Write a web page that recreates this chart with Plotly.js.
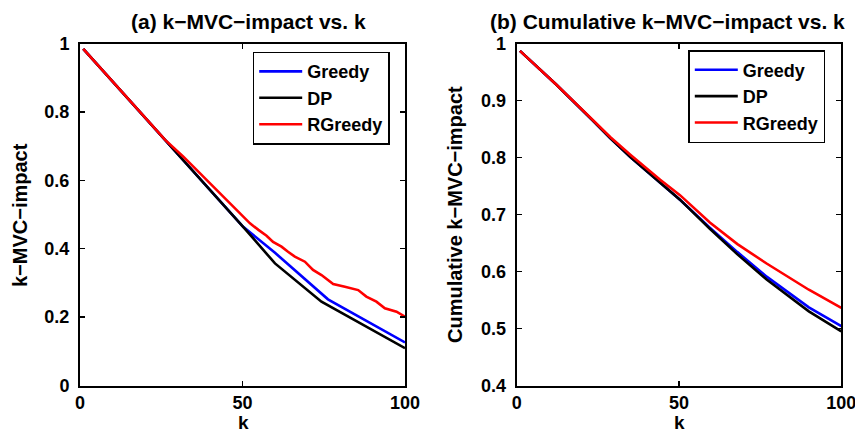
<!DOCTYPE html>
<html>
<head>
<meta charset="utf-8">
<script src="https://cdn.plot.ly/plotly-3.0.1.min.js"></script>
<style>html,body{margin:0;padding:0;background:#fff;}#chart{width:855px;height:431px;}</style>
</head>
<body>
<div id="chart"></div>
<script>
// ---- Panel (a): k-MVC-impact vs. k ----
var aGreedyK = [1, 10, 20, 30, 40, 46, 50.2, 60, 76.3, 100];
var aGreedyV = [0.984, 0.889, 0.783, 0.678, 0.573, 0.508, 0.464, 0.388, 0.252, 0.126];
var aDPK = [1, 10, 20, 30, 40, 46, 50.2, 60, 74.3, 100];
var aDPV = [0.984, 0.889, 0.783, 0.678, 0.573, 0.508, 0.464, 0.357, 0.245, 0.109];
var aRGreedyK = [1, 10, 20, 26.2, 31.8, 36.9, 42, 47.2, 52.3, 54.9, 57.4, 59.4, 62, 64, 66.1, 69.2, 71.7, 74.3, 77.9, 81.5, 85.6, 88.1, 91.2, 93.8, 97.4, 100];
var aRGreedyV = [0.984, 0.889, 0.784, 0.718, 0.669, 0.620, 0.572, 0.523, 0.474, 0.455, 0.438, 0.420, 0.406, 0.391, 0.377, 0.362, 0.338, 0.323, 0.297, 0.289, 0.279, 0.260, 0.245, 0.226, 0.216, 0.201];

// ---- Panel (b): Cumulative k-MVC-impact vs. k ----
var bGreedyK = [1, 12, 23.6, 28.8, 35, 44.2, 50.3, 59.5, 68, 77, 90, 100];
var bGreedyV = [0.987, 0.929, 0.864, 0.834, 0.801, 0.756, 0.726, 0.677, 0.634, 0.591, 0.537, 0.504];
var bDPK = [1, 12, 23.6, 28.8, 35, 44.2, 50.3, 59.5, 68, 77, 90, 100];
var bDPV = [0.987, 0.929, 0.864, 0.834, 0.801, 0.756, 0.726, 0.675, 0.630, 0.586, 0.530, 0.495];
var bRGreedyK = [1, 12, 23.6, 28.8, 35, 44.2, 50.3, 59.5, 68, 77, 90, 100];
var bRGreedyV = [0.987, 0.929, 0.865, 0.836, 0.805, 0.761, 0.734, 0.686, 0.648, 0.614, 0.568, 0.536];

var seriesNames = ["Greedy", "DP", "RGreedy"];
var seriesColors = ["#0000ff", "#000000", "#ff0000"];

var titleA = "(a) k\u2212MVC\u2212impact vs. k";
var titleB = "(b) Cumulative k\u2212MVC\u2212impact vs. k";
var yTitleA = "k\u2212MVC\u2212impact";
var yTitleB = "Cumulative k\u2212MVC\u2212impact";
var xTitle = "k";

var FONT = "Liberation Sans, Arial, Helvetica, sans-serif";
var LW = 2.6;

function tr(x, y, i, xa, ya, lg) {
  return {x: x, y: y, type: "scatter", mode: "lines", name: seriesNames[i],
    line: {color: seriesColors[i], width: LW}, xaxis: xa, yaxis: ya, legend: lg};
}

var data = [
  tr(aGreedyK, aGreedyV, 0, "x", "y", "legend"),
  tr(aDPK, aDPV, 1, "x", "y", "legend"),
  tr(aRGreedyK, aRGreedyV, 2, "x", "y", "legend"),
  tr(bGreedyK, bGreedyV, 0, "x2", "y2", "legend2"),
  tr(bDPK, bDPV, 1, "x2", "y2", "legend2"),
  tr(bRGreedyK, bRGreedyV, 2, "x2", "y2", "legend2")
];

var tickFont = {family: FONT, size: 18, color: "#000", weight: "bold"};
function xax(dom, anchor) {
  return {domain: dom, anchor: anchor, range: [0, 100], dtick: 50, tick0: 0,
    showgrid: false, zeroline: false, showline: true, linecolor: "#000", linewidth: 2,
    mirror: "ticks", ticks: "inside", ticklen: 5, tickwidth: 1.3, tickcolor: "#000",
    tickfont: tickFont, ticklabeloverflow: "allow", fixedrange: true};
}
function yax(dom, anchor, range, dt) {
  return {domain: dom, anchor: anchor, range: range, dtick: dt, tick0: 0,
    showgrid: false, zeroline: false, showline: true, linecolor: "#000", linewidth: 2,
    mirror: "ticks", ticks: "inside", ticklen: 5, tickwidth: 1.3, tickcolor: "#000",
    tickfont: tickFont, ticklabelstandoff: 5, ticklabeloverflow: "allow", fixedrange: true};
}

var yDom = [1 - 385.5 / 431, 1 - 43.5 / 431];
var legendStyle = function (x, y) {
  return {x: x, y: y, xanchor: "left", yanchor: "top", xref: "paper", yref: "paper",
    bgcolor: "#fff", bordercolor: "#000", borderwidth: 1.5, itemwidth: 43,
    font: {family: FONT, size: 18, color: "#000", weight: "bold"}};
};

var annFont = {family: FONT, size: 21, color: "#000", weight: "bold"};
var axFont = {family: FONT, size: 20, color: "#000", weight: "bold"};
var kFont = {family: FONT, size: 19, color: "#000", weight: "bold"};
var layout = {
  width: 855, height: 431,
  margin: {l: 0, r: 0, t: 0, b: 0},
  paper_bgcolor: "#fff", plot_bgcolor: "#fff",
  showlegend: true,
  xaxis: xax([80 / 855, 405 / 855], "y"),
  yaxis: yax(yDom, "x", [0, 1], 0.2),
  xaxis2: xax([516.7 / 855, 841.3 / 855], "y2"),
  yaxis2: yax(yDom, "x2", [0.4, 1], 0.1),
  legend: legendStyle(252.7 / 855, 1 - 51.7 / 431),
  legend2: legendStyle(688.3 / 855, 1 - 50 / 431),
  annotations: [
    {text: titleA, x: 248 / 855, y: 1 - 21 / 431, xref: "paper", yref: "paper", showarrow: false, xanchor: "center", yanchor: "middle", font: annFont},
    {text: titleB, x: 667 / 855, y: 1 - 21 / 431, xref: "paper", yref: "paper", showarrow: false, xanchor: "center", yanchor: "middle", font: annFont},
    {text: xTitle, x: 243 / 855, y: 0, xref: "paper", yref: "paper", showarrow: false, xanchor: "center", yanchor: "bottom", yshift: -3, borderpad: 0, font: kFont},
    {text: xTitle, x: 679 / 855, y: 0, xref: "paper", yref: "paper", showarrow: false, xanchor: "center", yanchor: "bottom", yshift: -3, borderpad: 0, font: kFont},
    {text: yTitleA, x: 20 / 855, y: 1 - 215 / 431, xref: "paper", yref: "paper", showarrow: false, xanchor: "center", yanchor: "middle", textangle: -90, font: axFont},
    {text: yTitleB, x: 455 / 855, y: 1 - 215 / 431, xref: "paper", yref: "paper", showarrow: false, xanchor: "center", yanchor: "middle", textangle: -90, font: axFont}
  ]
};

Plotly.newPlot("chart", data, layout, {staticPlot: true, displayModeBar: false});
</script>
</body>
</html>
